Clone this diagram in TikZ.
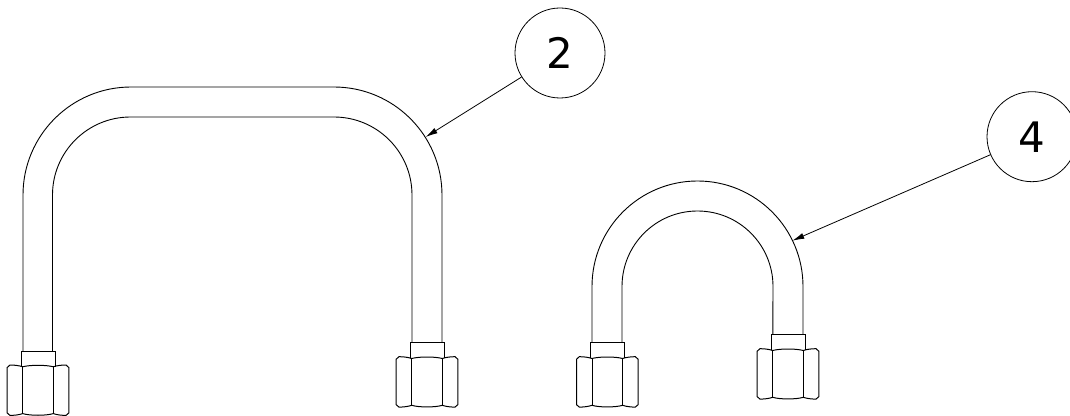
\documentclass[tikz,border=0pt]{standalone}
\usepackage{fontspec}
\setmainfont{DejaVu Sans}
\usetikzlibrary{arrows.meta}

\tikzset{
    linework/.style={line width=0.9pt, color=black},
    nutline/.style={line width=1pt, color=black},
    balloon/.style={draw, circle, line width=0.8pt, minimum size=90pt, inner sep=0pt, font=\fontsize{42}{42}\selectfont},
    leader/.style={line width=0.8pt, -{Latex[length=12pt, width=6pt]}}
}

\begin{document}
\begin{tikzpicture}[x=1pt, y=1pt]
    \useasboundingbox (0, 0) rectangle (1070, 415);
    % long bend
    \draw[linework] (23, 64) -- (23, 220) arc (180:90:108) -- (334, 328) arc (90:0:108) -- (442, 72.3);
    \draw[linework] (52.5, 64) -- (52.5, 220) arc (180:90:78) -- (334, 298) arc (90:0:78) -- (412, 72.3);
    % short bend
    \draw[linework] (592, 72.3) -- (592, 128.5) arc (180:0:105.5) -- (803, 80.3);
    \draw[linework] (622, 72.3) -- (622, 128.5) arc (180:0:75.5) -- (772.8, 80.3);
    % nuts
    \foreach \cx/\cy in {38/64, 427/72.3, 607.3/72.3, 788/80.3}{
        \begin{scope}[shift={(\cx, \cy)}]
            \draw[linework] (-17, -15.5) -- (-17, 0) -- (17, 0) -- (17, -15.5);
            \draw[nutline] (-30.8, -16.5) -- (-28, -14)
                .. controls (-24, -14) and (-19, -14.5) .. (-15.3, -15.8)
                .. controls (-8, -13.8) and (8, -13.8) .. (15.3, -15.8)
                .. controls (19, -14.5) and (24, -14) .. (28, -14)
                -- (30.8, -16.5)
                -- (30.8, -62) -- (28, -64.4)
                .. controls (24, -64.4) and (19, -63.9) .. (15.3, -62.6)
                .. controls (8, -64.8) and (-8, -64.8) .. (-15.3, -62.6)
                .. controls (-19, -63.9) and (-24, -64.4) .. (-28, -64.4)
                -- (-30.8, -62) -- cycle;
            \draw[nutline] (-15.3, -15.8) -- (-15.3, -62.6);
            \draw[nutline] (15.3, -15.8) -- (15.3, -62.6);
        \end{scope}
    }
    % balloons
    \node[balloon] (balloonA) at (560, 362) {2};
    \node[balloon] (balloonB) at (1032, 278.3) {4};
    \coordinate (tipA) at (425.7, 278);
    \coordinate (tipB) at (792.3, 174.3);
    \draw[leader] (balloonA) -- (tipA);
    \draw[leader] (balloonB) -- (tipB);
\end{tikzpicture}
\end{document}
